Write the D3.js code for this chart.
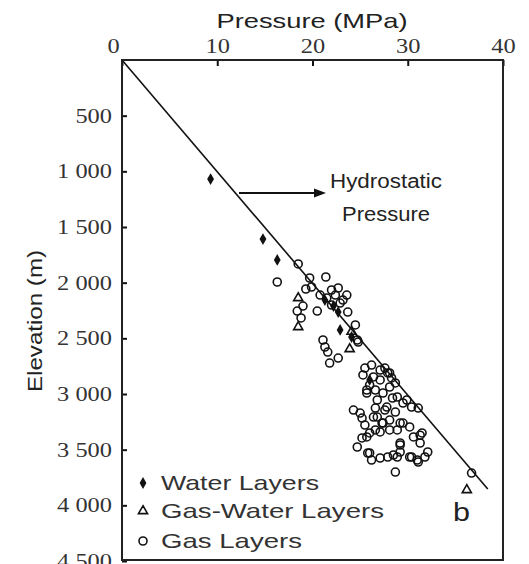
<!DOCTYPE html>
<html>
<head>
<meta charset="utf-8">
<script src="https://cdn.jsdelivr.net/npm/d3@7"></script>
</head>
<body style="margin:0">
<svg id="chart" width="529" height="564"></svg>
<script>
// --- data: [pressure MPa, elevation m] ---
const waterLayers = [
    [9.3, 1069], [14.8, 1608], [16.3, 1796], [21.3, 2156], [22.2, 2210],
    [22.7, 2264], [22.9, 2425], [24.1, 2488], [26.0, 2874]
];
const gasWaterLayers = [
    [18.5, 2138], [18.5, 2398], [24.1, 2440], [23.9, 2596], [36.2, 3862]
];
const gasLayers = [
    [18.5, 1832], [16.3, 1994], [19.7, 1958], [21.4, 1949], [19.3, 2057], [18.4, 2255],
    [19.0, 2210], [18.8, 2317], [20.5, 2255], [21.1, 2515], [22.7, 2048], [22.0, 2066],
    [23.6, 2111], [23.2, 2156], [23.7, 2264], [24.5, 2380], [24.7, 2515], [21.3, 2578],
    [21.6, 2623], [22.7, 2677], [21.8, 2722], [22.0, 2201], [19.9, 2039], [20.8, 2111],
    [21.5, 2138], [22.4, 2111], [22.9, 2183], [24.8, 2533],
    [25.3, 2829], [26.4, 2847], [26.0, 2919], [25.7, 2991], [27.1, 2874], [27.9, 2811],
    [28.1, 2937], [28.7, 2901], [28.9, 3027], [29.5, 3081], [24.3, 3144], [25.0, 3171],
    [25.2, 3216], [26.8, 3207], [27.4, 3261], [28.1, 3234], [29.2, 3261], [26.0, 3350],
    [27.1, 3341], [28.1, 3323], [25.7, 2964], [26.8, 3054], [27.8, 3117], [27.1, 2785],
    [28.1, 2811], [29.9, 3054], [31.1, 3126], [30.4, 3117], [26.4, 3207], [25.5, 2767],
    [26.2, 2740], [27.6, 2767], [28.3, 2856], [26.6, 2964], [27.4, 2991], [28.4, 3036],
    [27.6, 3144], [26.6, 3126], [28.7, 3162], [25.5, 3279],
    [25.2, 3395], [24.7, 3476], [25.8, 3530], [26.2, 3593], [27.1, 3575], [27.9, 3566],
    [28.9, 3566], [28.7, 3701], [29.2, 3458], [29.2, 3521], [30.2, 3566], [31.0, 3593],
    [31.3, 3440], [32.1, 3521], [31.8, 3566], [31.5, 3350], [30.6, 3386], [30.2, 3296],
    [29.5, 3261], [28.9, 3323], [27.3, 3261], [26.6, 3323], [25.7, 3386], [26.0, 3530],
    [28.5, 3548], [29.2, 3440], [30.4, 3566], [31.3, 3370], [31.1, 3611], [36.7, 3710]
];
const hydrostatic = [[0, 0], [38.4, 3853]];
const xTicks = [0, 10, 20, 30, 40];
const yTicks = [500, 1000, 1500, 2000, 2500, 3000, 3500, 4000, 4500];
const legendLabels = ["Water Layers", "Gas-Water Layers", "Gas Layers"];

const svg = d3.select("#chart");
const plotLeft = 122, plotRight = 503, plotTop = 60, plotBottom = 561, frameBottom = 560;

const x = d3.scaleLinear().domain([0, 40]).range([plotLeft, plotRight]);
const y = d3.scaleLinear().domain([0, 4500]).range([plotTop, plotBottom]);

// hydrostatic line
svg.append("path")
    .datum(hydrostatic)
    .attr("d", d3.line().x(d => x(d[0])).y(d => y(d[1])))
    .attr("fill", "none").attr("stroke", "#111").attr("stroke-width", 1.6);

// markers
const circleR = 4;
svg.append("g").selectAll("circle")
    .data(gasLayers).join("circle")
    .attr("cx", d => x(d[0])).attr("cy", d => y(d[1])).attr("r", circleR)
    .attr("fill", "none").attr("stroke", "#111").attr("stroke-width", 1.6);

const tri = d3.symbol().type(d3.symbolTriangle).size(36);
svg.append("g").selectAll("path")
    .data(gasWaterLayers).join("path")
    .attr("d", tri)
    .attr("transform", d => `translate(${x(d[0])},${y(d[1])})`)
    .attr("fill", "none").attr("stroke", "#111").attr("stroke-width", 1.6);

const dia = d3.symbol().type(d3.symbolDiamond).size(40);
svg.append("g").selectAll("path")
    .data(waterLayers).join("path")
    .attr("d", dia)
    .attr("transform", d => `translate(${x(d[0])},${y(d[1])})`)
    .attr("fill", "#111");

// arrow + annotation
svg.append("line")
    .attr("x1", 239).attr("y1", 193).attr("x2", 316).attr("y2", 193)
    .attr("stroke", "#111").attr("stroke-width", 2);
svg.append("path")
    .attr("d", "M314,188.5L326,193L314,197.5Z")
    .attr("fill", "#111");

function label(txt, tx, ty, size, width, anchor) {
    return svg.append("text")
        .attr("x", tx).attr("y", ty)
        .attr("text-anchor", anchor || "start")
        .attr("fill", "#222")
        .attr("font-family", "Liberation Sans").attr("font-size", size)
        .attr("textLength", width).attr("lengthAdjust", "spacingAndGlyphs")
        .text(txt);
}
label("Pressure (MPa)", 312, 28, 21, 191, "middle");
label("Hydrostatic", 386, 188, 20, 112, "middle");
label("Pressure", 386, 221, 20, 88, "middle");
label("b", 453, 521, 26, 17);
label("Elevation (m)", 0, 0, 21, 142, "middle")
    .attr("transform", "translate(42,321) rotate(-90)");

// legend
const legendY = [483, 511, 541];
const lg = svg.append("g");
lg.append("path").attr("d", dia)
    .attr("transform", `translate(143,${legendY[0]})`).attr("fill", "#111");
lg.append("path").attr("d", tri)
    .attr("transform", `translate(143,${legendY[1]})`)
    .attr("fill", "none").attr("stroke", "#111").attr("stroke-width", 1.6);
lg.append("circle").attr("cx", 143).attr("cy", legendY[2]).attr("r", circleR)
    .attr("fill", "none").attr("stroke", "#111").attr("stroke-width", 1.6);
const legendW = [158, 223, 141];
legendLabels.forEach((t, i) => label(t, 161, legendY[i] + 7, 21, legendW[i]).attr("fill", "#333"));

// axes last: ticks point inward, the domain line is replaced by the frame
const xAxis = svg.append("g")
    .attr("transform", `translate(0,${plotTop})`)
    .call(d3.axisTop(x).tickValues(xTicks).tickSizeInner(-6).tickSizeOuter(0).tickPadding(7));
const yAxis = svg.append("g")
    .attr("transform", `translate(${plotLeft},0)`)
    .call(d3.axisLeft(y).tickValues(yTicks).tickSizeInner(-5).tickSizeOuter(0).tickPadding(10)
        .tickFormat(d => d3.format(",")(d).replace(",", " ")));

for (const g of [xAxis, yAxis]) {
    g.attr("font-family", "Liberation Serif").attr("font-size", 20).attr("fill", "#111");
    g.select(".domain").remove();
    g.selectAll(".tick line").attr("stroke", "#111").attr("stroke-width", 2);
    g.selectAll(".tick text")
        .attr("fill", "#333")
        .attr("font-family", "Liberation Serif")
        .attr("font-size", 20)
        .attr("textLength", function () { return this.getComputedTextLength() * 1.22; })
        .attr("lengthAdjust", "spacingAndGlyphs");
}
xAxis.selectAll(".tick text").filter(d => d === 0).attr("dx", -9);

// frame, drawn as four plain lines on top
const frameLines = [
    [plotLeft, plotTop, plotRight, plotTop],
    [plotRight, plotTop, plotRight, frameBottom],
    [plotRight, frameBottom, plotLeft, frameBottom],
    [plotLeft, frameBottom, plotLeft, plotTop]
];
svg.append("g").selectAll("line")
    .data(frameLines).join("line")
    .attr("x1", d => d[0]).attr("y1", d => d[1])
    .attr("x2", d => d[2]).attr("y2", d => d[3])
    .attr("stroke", "#222").attr("stroke-width", 2).attr("stroke-linecap", "square");
</script>
</body>
</html>
